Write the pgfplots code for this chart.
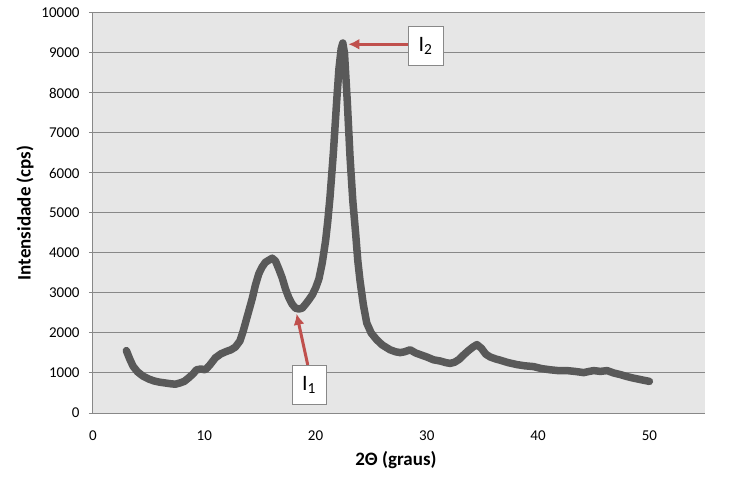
\documentclass[border=0pt]{standalone}
\usepackage{fontspec}
\setmainfont{Carlito}
\usepackage{pgfplots}
\pgfplotsset{compat=1.18}
\usetikzlibrary{arrows.meta}
\definecolor{bgc}{HTML}{E6E6E6}
\definecolor{gridc}{HTML}{888888}
\definecolor{linec}{HTML}{595959}
\definecolor{arrc}{HTML}{C0504D}
\begin{document}
\begin{tikzpicture}
\path[use as bounding box] (-93pt,-68pt) rectangle (650pt,413pt);
\begin{axis}[
  scale only axis, width=612pt, height=400pt,
  at={(0pt,0pt)}, anchor=south west,
  xmin=0, xmax=55, ymin=0, ymax=10000,
  xtick={0,10,...,50}, ytick={0,1000,...,10000},
  scaled y ticks=false,
  /pgf/number format/set thousands separator={},
  /pgf/number format/assume math mode=true,
  axis background/.style={fill=bgc},
  ymajorgrids, grid style={gridc, line width=1pt},
  axis x line*=bottom, axis y line*=left,
  axis line style={gridc, line width=1pt},
  xtick style={draw=none},
  ytick style={gridc, line width=1pt},
  tick align=outside, major tick length=4pt,
  ticklabel style={font=\fontsize{15}{18}\selectfont, text=black},
  xticklabel style={yshift=-10pt},
  yticklabel style={xshift=-6pt},
  xlabel={2Θ (graus)}, ylabel={Intensidade (cps)},
  label style={font=\bfseries\fontsize{19}{22}\selectfont},
  xlabel style={at={(axis description cs:0.495,-0.1175)}, anchor=center},
  ylabel style={at={(axis description cs:-0.111,0.5)}, anchor=center, rotate=0},
  clip=false,
]
\addplot[linec, line width=7.5pt, line join=round, line cap=round] coordinates {
(3.0,1560) (3.3,1350) (3.6,1170) (4.0,1030) (4.5,920) (5.0,850) (5.5,800) (6.0,770)
(6.5,750) (7.0,730) (7.4,720) (7.8,750) (8.2,790) (8.6,880) (9.0,980) (9.3,1080)
(9.7,1100) (10.1,1080) (10.5,1200) (11.0,1380) (11.5,1480) (12.0,1540) (12.4,1580)
(12.8,1650) (13.2,1800) (13.5,2050) (13.8,2350) (14.0,2550) (14.3,2850) (14.6,3200)
(14.9,3480) (15.2,3650) (15.5,3770) (15.8,3820) (16.1,3870) (16.4,3800) (16.7,3600)
(17.0,3380) (17.3,3100) (17.6,2880) (17.9,2720) (18.2,2620) (18.5,2600) (18.8,2620)
(19.1,2720) (19.4,2830) (19.7,2950) (20.0,3120) (20.3,3350) (20.6,3750) (20.9,4300)
(21.1,4800) (21.3,5400) (21.6,6500) (21.9,7800) (22.1,8600) (22.3,9100) (22.45,9250)
(22.6,9000) (22.85,7800) (23.1,6400) (23.35,5300) (23.6,4500) (23.8,3800) (24.0,3300)
(24.3,2700) (24.6,2250) (25.0,2000) (25.5,1830) (26.0,1700) (26.7,1580) (27.2,1530)
(27.6,1510) (28.0,1530) (28.5,1580) (29.0,1500) (29.5,1450) (30.0,1400) (30.6,1330)
(31.2,1300) (31.7,1260) (32.1,1240) (32.5,1270) (32.9,1340) (33.3,1450) (33.7,1550)
(34.1,1640) (34.5,1710) (34.9,1620) (35.3,1470) (35.7,1400) (36.2,1350) (36.6,1320)
(37.3,1260) (38.1,1210) (38.8,1180) (39.6,1160) (40.3,1110) (41.1,1080) (41.8,1060)
(42.6,1060) (43.3,1040) (44.1,1010) (44.6,1040) (45.0,1060) (45.6,1040) (46.2,1060)
(46.8,1000) (47.4,960) (48.0,910) (48.6,870) (49.3,830) (50.0,790)
};
\draw[arrc, line width=3pt, -{Latex[length=11pt,width=11pt]}] (axis cs:28.31,9218) -- (axis cs:22.95,9218);
\node[draw=gridc, fill=white, line width=0.8pt, minimum width=35pt, minimum height=39pt, inner sep=0pt,
  font=\fontsize{22}{24}\selectfont] at (axis cs:29.88,9183) {I\textsubscript{2}};
\draw[arrc, line width=3pt, -{Latex[length=11pt,width=11pt]}] (axis cs:19.3,1200) -- (axis cs:18.3,2480);
\node[draw=gridc, fill=white, line width=0.8pt, minimum width=34pt, minimum height=39pt, inner sep=0pt,
  font=\fontsize{22}{24}\selectfont] at (axis cs:19.41,712) {I\textsubscript{1}};
\end{axis}
\end{tikzpicture}
\end{document}
